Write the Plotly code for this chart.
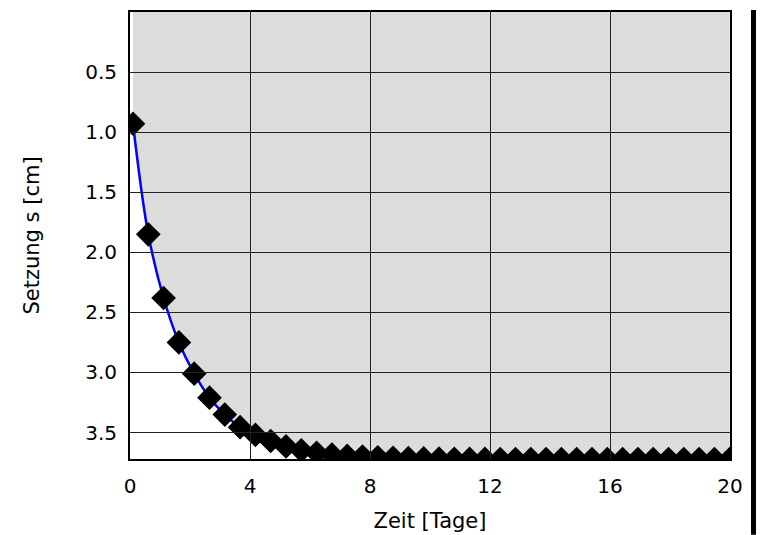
import plotly.graph_objects as go

# Data
zeit_tage = [0.10, 0.61, 1.12, 1.63, 2.14, 2.65, 3.16, 3.67, 4.18, 4.69,
             5.20, 5.71, 6.22, 6.73, 7.24, 7.75, 8.26, 8.77, 9.28, 9.79,
             10.30, 10.81, 11.32, 11.83, 12.34, 12.85, 13.36, 13.87, 14.38, 14.89,
             15.40, 15.91, 16.42, 16.93, 17.44, 17.95, 18.46, 18.97, 19.48, 19.99]
setzung_cm = [0.93, 1.85, 2.38, 2.75, 3.01, 3.21, 3.35, 3.455, 3.52, 3.57,
              3.615, 3.648, 3.668, 3.683, 3.694, 3.700, 3.706, 3.710, 3.713, 3.715,
              3.717, 3.718, 3.719, 3.719, 3.72, 3.72, 3.72, 3.72, 3.72, 3.72,
              3.72, 3.72, 3.72, 3.72, 3.72, 3.72, 3.72, 3.72, 3.72, 3.72]

x_ticks = [0, 4, 8, 12, 16, 20]
y_ticks = [0.5, 1.0, 1.5, 2.0, 2.5, 3.0, 3.5]
y_tick_labels = ["0.5", "1.0", "1.5", "2.0", "2.5", "3.0", "3.5"]

FONT = "DejaVu Sans"
OFF = 8  # page body margin
W, H = 764 - OFF, 535 - OFF
ML, MR, MT, MB = 130 - OFF, 34, 10 - OFF, 76
PW, PH = W - ML - MR, H - MT - MB

fig = go.Figure()

# gray region between s = 0 and the curve
fig.add_trace(go.Scatter(
    x=zeit_tage, y=setzung_cm, mode="none", fill="tozeroy",
    fillcolor="#dcdcdc", line=dict(shape="spline"), hoverinfo="skip",
    showlegend=False))

fig.add_trace(go.Scatter(
    x=zeit_tage, y=setzung_cm, mode="lines+markers",
    line=dict(color="#0000ff", width=2.5, shape="spline"),
    marker=dict(symbol="diamond", size=19, color="black", line=dict(width=0)),
    showlegend=False))

fig.update_layout(
    width=W, height=H,
    margin=dict(l=ML, r=MR, t=MT, b=MB, pad=0),
    paper_bgcolor="white", plot_bgcolor="white",
    font=dict(family=FONT, size=20, color="black"),
    xaxis=dict(
        range=[0, 20], tickvals=x_ticks, ticktext=[str(v) for v in x_ticks],
        showgrid=False, zeroline=False,
        showline=True, linecolor="black", linewidth=2, mirror=True,
        ticks="inside", ticklen=PH, tickwidth=1, tickcolor="#222222",
        layer="above traces", ticklabelstandoff=8,
        tickfont=dict(family=FONT, size=20),
        title=dict(text="Zeit [Tage]", font=dict(family=FONT, size=21), standoff=16),
    ),
    yaxis=dict(
        range=[3.72, 0], tickvals=y_ticks, ticktext=y_tick_labels,
        showgrid=False, zeroline=False,
        showline=True, linecolor="black", linewidth=2, mirror=True,
        ticks="inside", ticklen=PW, tickwidth=1, tickcolor="#222222",
        layer="above traces", ticklabelstandoff=7,
        tickfont=dict(family=FONT, size=20),
        title=dict(text="Setzung s [cm]", font=dict(family=FONT, size=21), standoff=40),
    ),
    # black frame edge near the right border of the picture
    shapes=[dict(type="rect", xref="paper", yref="paper",
                 x0=(751 - 130) / PW, x1=(757 - 130) / PW,
                 y0=(459 - 535) / PH, y1=(459 - OFF) / PH,
                 fillcolor="black", line=dict(width=0), layer="above")],
)

fig.write_html("out.html", config={"displayModeBar": False})
